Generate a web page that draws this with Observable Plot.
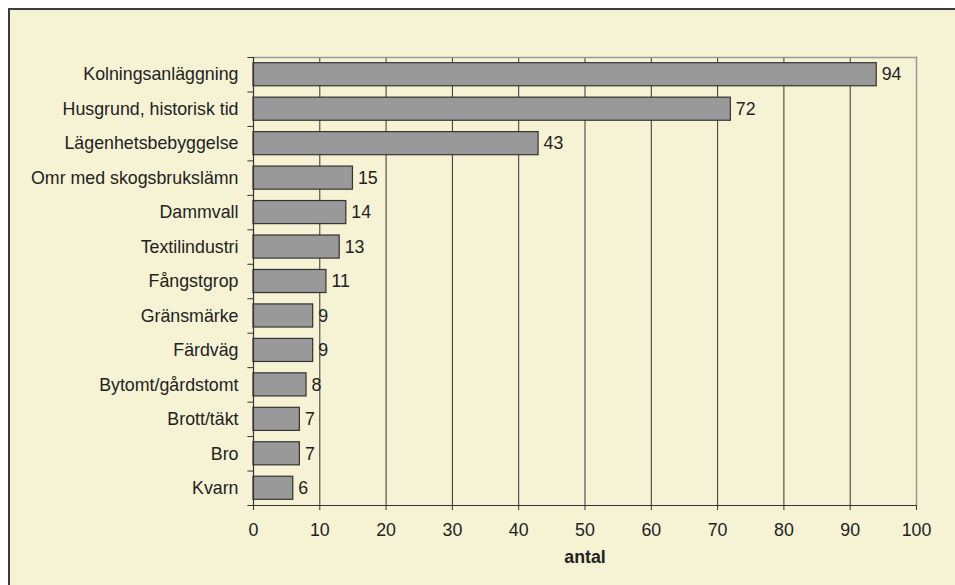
<!DOCTYPE html>
<html>
<head>
<meta charset="utf-8">
<script src="https://cdn.jsdelivr.net/npm/d3@7"></script>
<script src="https://cdn.jsdelivr.net/npm/@observablehq/plot@0.6"></script>
<style>
  html, body { margin: 0; padding: 0; background: #ffffff; }
  #wrap { position: relative; width: 955px; height: 585px; overflow: hidden; }
  #panel { position: absolute; left: 8px; top: 8px; width: 970px; height: 600px;
           background: #f6f3d4; border-left: 2px solid #3c3c3a; border-top: 2px solid #3c3c3a; }
  #chart { position: absolute; left: 0; top: 0; }
</style>
</head>
<body>
<div id="wrap"><div id="panel"></div><div id="chart"></div></div>
<script>
const categories = [
  "Kolningsanläggning",
  "Husgrund, historisk tid",
  "Lägenhetsbebyggelse",
  "Omr med skogsbrukslämn",
  "Dammvall",
  "Textilindustri",
  "Fångstgrop",
  "Gränsmärke",
  "Färdväg",
  "Bytomt/gårdstomt",
  "Brott/täkt",
  "Bro",
  "Kvarn"
];
const values = [94, 72, 43, 15, 14, 13, 11, 9, 9, 8, 7, 7, 6];
const xTicks = [0, 10, 20, 30, 40, 50, 60, 70, 80, 90, 100];
const xLabel = "antal";

const data = categories.map((c, i) => ({category: c, value: values[i]}));

const W = 955, H = 585;
const mL = 253, mR = 39, mT = 57, mB = 80;
const step = (H - mT - mB) / categories.length;
const font = "Liberation Sans, Arial, sans-serif";
const fs = 17.8;

const chart = Plot.plot({
  width: W,
  height: H,
  marginLeft: mL,
  marginRight: mR,
  marginTop: mT,
  marginBottom: mB,
  style: {background: "transparent", fontFamily: font, fontSize: fs + "px", color: "#222"},
  x: {domain: [0, 100]},
  y: {domain: categories, paddingInner: 0.33, paddingOuter: 0.165, round: false},
  marks: [
    Plot.ruleX(xTicks.filter(t => t > 0 && t < 100), {stroke: "#333", strokeWidth: 1}),
    Plot.frame({anchor: "top", stroke: "#999", strokeWidth: 1.5}),
    Plot.frame({anchor: "right", stroke: "#999", strokeWidth: 1.5}),
    Plot.barX(data, {y: "category", x: "value", fill: "#999999", stroke: "#333", strokeWidth: 1.2}),
    Plot.text(data, {y: "category", x: "value", text: d => String(d.value), dx: 5, textAnchor: "start", fill: "#222", fontSize: fs}),
    // category boundary ticks on the left
    Plot.ruleY(categories, {y: d => d, x1: -0.85, x2: 0, dy: -step / 2, stroke: "#333", strokeWidth: 1}),
    // bottom axis line
    Plot.ruleY([categories[categories.length - 1]], {y: d => d, x1: -0.85, x2: 100, dy: step / 2, stroke: "#333", strokeWidth: 1.2}),
    Plot.frame({anchor: "left", stroke: "#333", strokeWidth: 1.2}),
    Plot.axisX({ticks: xTicks, tickSize: 5, tickPadding: 13, tickFormat: d => String(d), label: null, fontSize: fs, fill: "#222", stroke: "#333"}),
    Plot.axisY({tickSize: 0, tickPadding: 15, label: null, fontSize: fs, fill: "#222"}),
    Plot.text([xLabel], {frameAnchor: "bottom", dy: 52, lineAnchor: "middle", text: d => d, fontWeight: "bold", fontSize: fs, fill: "#222"})
  ]
});
document.getElementById("chart").appendChild(chart);
</script>
</body>
</html>
